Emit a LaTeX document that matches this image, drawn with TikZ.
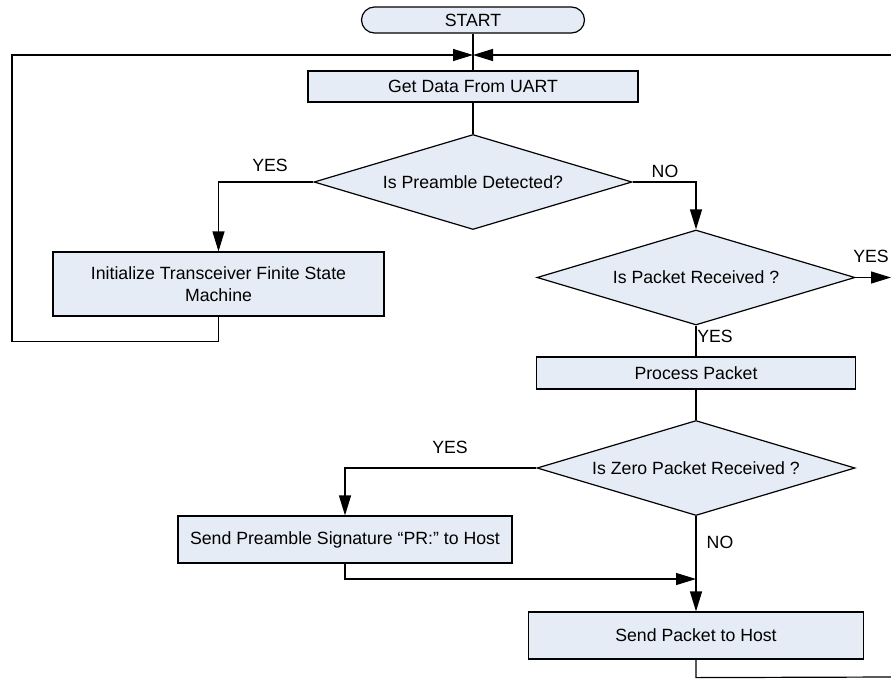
\documentclass[tikz,border=0pt]{standalone}
\usepackage{fontspec}
\setmainfont{Liberation Sans}
\usetikzlibrary{shapes.geometric,arrows.meta}
\definecolor{fond}{RGB}{230,236,246}

\begin{document}
\begin{tikzpicture}[x=1pt,y=-1pt,font=\fontsize{17.7}{22}\selectfont]
\tikzset{bloc/.style={draw, fill=fond, line width=1.2pt, inner sep=0pt},
  losange/.style={draw, diamond, aspect=3.35, fill=fond, line width=1.2pt, inner sep=0pt, minimum width=318pt, minimum height=95pt},
  fleche/.style={line width=1.2pt, -{Triangle[length=20pt,width=12pt]}},
  trait/.style={line width=1.2pt},
  etiq/.style={inner sep=0pt}}
\useasboundingbox (0,0) rectangle (891,681);
\node[bloc, rounded corners=13pt, minimum width=223pt, minimum height=26pt] (S) at (473,20) {START};
\node[bloc, minimum width=330pt, minimum height=31pt] (G) at (473,86.5) {Get Data From UART};
\node[losange] (D1) at (473,182) {Is Preamble Detected?};
\node[bloc, minimum width=331pt, minimum height=64pt, align=center] (I) at (218.5,284) {Initialize Transceiver Finite State\\Machine};
\node[losange] (D2) at (696,277.5) {Is Packet Received ?};
\node[bloc, minimum width=319pt, minimum height=32pt] (P) at (696,373) {Process Packet};
\node[losange] (D3) at (696,468) {Is Zero Packet Received ?};
\node[bloc, minimum width=334pt, minimum height=47pt] (SP) at (345,539.5) {Send Preamble Signature “PR:” to Host};
\node[bloc, minimum width=335pt, minimum height=47pt] (SH) at (696,635.5) {Send Packet to Host};
\coordinate (M) at (473,55);
\coordinate (Dr) at (891,55);
\coordinate (E) at (891,277.5);
\coordinate (J) at (696,579);
\coordinate (F) at (891,677);
\draw[trait] (S) -- (G);
\draw[fleche] (I.south) -- ++(0,25) -| (12,55) -- (M);
\draw[fleche] (Dr) -- (M);
\draw[trait] (G) -- (D1);
\draw[fleche] (D1.west) -| (I.north);
\draw[fleche] (D1.east) -| (D2.north);
\draw[fleche] (D2.east) -- (E);
\draw[trait] (D2) -- (P);
\draw[trait] (P) -- (D3);
\draw[fleche] (D3.west) -| (SP.north);
\draw[fleche] (SP.south) |- (J);
\draw[fleche] (D3) -- (SH);
\draw[trait] (SH.south) -- ++(0,18) -- (F);
\node[etiq] (o1) at (270,165) {YES};
\node[etiq] (n1) at (665,171) {NO};
\node[etiq] (o2) at (871,256) {YES};
\node[etiq] (o3) at (715,336) {YES};
\node[etiq] (o4) at (450,447) {YES};
\node[etiq] (n2) at (720,542) {NO};
\end{tikzpicture}
\end{document}
